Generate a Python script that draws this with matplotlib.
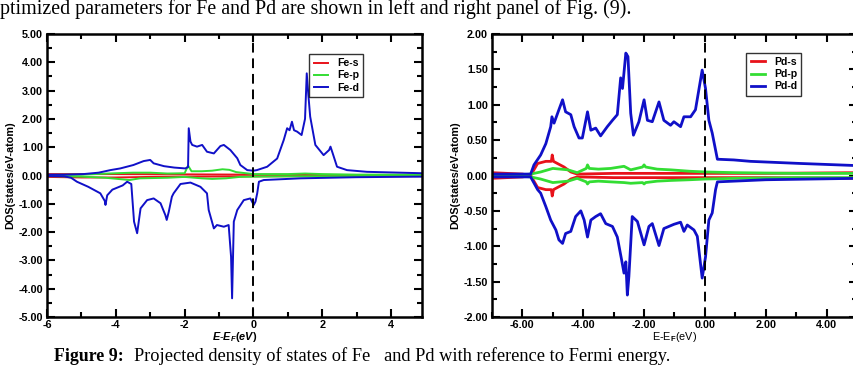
import matplotlib
matplotlib.use("Agg")
import matplotlib.pyplot as plt
from matplotlib.ticker import MultipleLocator, FormatStrFormatter

plt.rcParams['font.family'] = ['Liberation Sans', 'DejaVu Sans']
plt.rcParams['font.weight'] = 'bold'
plt.rcParams['mathtext.fontset'] = 'custom'
plt.rcParams['mathtext.rm'] = 'Liberation Sans:bold'
plt.rcParams['mathtext.it'] = 'Liberation Sans:italic:bold'
plt.rcParams['mathtext.bf'] = 'Liberation Sans:bold'

RED = '#e8121a'
GREEN = '#33dd33'
BLUE = '#1010c8'
FS = 7.8

# ---- Fe (left panel) ----
fe_d_up_e = [-6.0, -5.5, -4.94, -4.5, -4.16, -3.87, -3.49, -3.19, -3.0, -2.9, -2.6, -2.3, -1.98,
             -1.9, -1.88, -1.83, -1.78, -1.64, -1.49, -1.35, -1.15, -0.96, -0.86, -0.67, -0.47,
             -0.38, -0.18, 0.0, 0.1, 0.4, 0.69, 0.88, 0.98, 1.05, 1.12, 1.18, 1.27, 1.4, 1.5, 1.55,
             1.6, 1.65, 1.8, 2.04, 2.2, 2.24, 2.3, 2.43, 2.72, 3.3, 4.27, 4.9]
fe_d_up = [0.03, 0.03, 0.05, 0.1, 0.19, 0.25, 0.37, 0.51, 0.55, 0.43, 0.33, 0.28, 0.25,
           0.3, 1.67, 1.2, 1.08, 1.02, 1.08, 0.84, 0.78, 1.04, 1.08, 0.9, 0.61,
           0.37, 0.19, 0.17, 0.19, 0.31, 0.6, 1.25, 1.67, 1.6, 1.9, 1.6, 1.55, 1.43, 2.0, 3.61,
           2.8, 2.08, 1.08, 0.72, 0.9, 1.02, 0.8, 0.31, 0.19, 0.13, 0.1, 0.08]

fe_d_dn_e = [-6.0, -5.5, -5.3, -5.13, -4.8, -4.45, -4.32, -4.3, -4.25, -4.1, -3.8, -3.67, -3.55,
             -3.47, -3.38, -3.28, -3.09, -2.9, -2.7, -2.56, -2.52, -2.46, -2.37, -2.32, -2.12,
             -1.83, -1.54, -1.35, -1.3, -1.15, -1.06, -0.86, -0.72, -0.65, -0.62, -0.57, -0.47,
             -0.28, -0.09, 0.01, 0.06, 0.11, 0.16, 0.3, 1.37, 3.0, 4.9]
fe_d_dn = [-0.02, -0.03, -0.08, -0.22, -0.4, -0.63, -0.9, -1.04, -0.7, -0.5, -0.35, -0.22, -0.3,
           -1.63, -2.04, -1.16, -0.87, -0.81, -0.98, -1.4, -1.57, -1.28, -0.75, -0.63, -0.3,
           -0.25, -0.4, -0.63, -1.22, -1.87, -1.75, -1.81, -1.75, -2.87, -4.34, -1.63, -1.22,
           -0.87, -0.81, -1.04, -0.92, -0.63, -0.22, -0.16, -0.1, -0.06, -0.04]

fe_p_up_e = [-6.0, -5.0, -4.0, -3.5, -3.0, -2.5, -2.0, -1.9, -1.8, -1.5, -1.2, -0.9, -0.7, -0.5,
             0.0, 1.0, 1.5, 2.0, 3.0, 4.9]
fe_p_up = [0.02, 0.03, 0.08, 0.1, 0.1, 0.07, 0.08, 0.35, 0.15, 0.15, 0.17, 0.22, 0.2, 0.12,
           0.05, 0.05, 0.07, 0.05, 0.03, 0.03]
fe_p_dn_e = [-6.0, -5.0, -4.3, -3.6, -3.3, -2.5, -2.0, -1.5, -1.2, -0.8, -0.4, 0.0, 1.0, 4.9]
fe_p_dn = [-0.02, -0.04, -0.08, -0.16, -0.1, -0.08, -0.05, -0.1, -0.12, -0.1, -0.05, -0.04,
           -0.03, -0.02]

fe_s_up_e = [-6.0, -4.0, -2.0, 0.0, 2.0, 4.9]
fe_s_up = [0.05, 0.05, 0.04, 0.03, 0.02, 0.02]
fe_s_dn_e = [-6.0, -5.0, -4.0, -3.0, -2.0, 0.0, 2.0, 4.9]
fe_s_dn = [-0.05, -0.07, -0.07, -0.05, -0.04, -0.03, -0.02, -0.02]

# ---- Pd (right panel) ----
pd_d_up_e = [-7.0, -6.5, -6.0, -5.73, -5.62, -5.4, -5.23, -5.07, -5.03, -4.96, -4.8, -4.68,
             -4.58, -4.41, -4.3, -4.14, -4.03, -3.86, -3.75, -3.59, -3.43, -3.21, -3.04, -2.88,
             -2.77, -2.71, -2.6, -2.53, -2.44, -2.35, -2.17, -2.0, -1.89, -1.73, -1.51, -1.35,
             -1.13, -1.02, -0.8, -0.69, -0.47, -0.31, -0.09, 0.02, 0.13, 0.24, 0.41, 0.95, 1.5,
             3.14, 5.0]
pd_d_up = [0.02, 0.02, 0.02, 0.02, 0.15, 0.29, 0.45, 0.69, 0.83, 0.74, 0.93, 1.07,
           0.9, 0.86, 0.69, 0.53, 0.53, 0.9, 0.64, 0.67, 0.56, 0.69, 0.78, 0.86,
           1.38, 1.23, 1.73, 1.68, 0.88, 0.57, 0.76, 1.07, 0.78, 0.76, 1.04, 0.78,
           0.71, 0.76, 0.69, 0.83, 0.83, 0.93, 1.49, 1.23, 0.78, 0.6, 0.23, 0.22, 0.2,
           0.17, 0.14]

pd_d_dn_e = [-7.0, -6.0, -5.73, -5.5, -5.4, -5.23, -5.07, -4.9, -4.8, -4.68, -4.58, -4.41,
             -4.25, -4.08, -3.97, -3.86, -3.75, -3.59, -3.43, -3.26, -3.04, -2.88, -2.74,
             -2.66, -2.6, -2.55, -2.5, -2.39, -2.22, -2.0, -1.84, -1.73, -1.51, -1.35, -1.02,
             -0.8, -0.69, -0.58, -0.36, -0.25, -0.09, 0.02, 0.13, 0.24, 0.35, 0.41, 2.0, 5.0]
pd_d_dn = [-0.02, -0.02, -0.02, -0.2, -0.25, -0.44, -0.63, -0.77, -0.91, -0.96, -0.82, -0.79,
           -0.58, -0.5, -0.63, -0.87, -0.63, -0.58, -0.54, -0.68, -0.72, -0.87, -1.19,
           -1.38, -1.22, -1.69, -1.43, -0.58, -0.65, -0.98, -0.72, -0.68, -0.99, -0.75, -0.69,
           -0.66, -0.79, -0.7, -0.77, -0.86, -1.45, -1.15, -0.63, -0.53, -0.2, -0.09, -0.06,
           -0.04]

pd_s_up_e = [-7.0, -6.0, -5.73, -5.5, -5.23, -5.05, -5.02, -4.98, -4.85, -4.63, -4.41, -4.2,
             -3.0, -2.0, -1.0, 0.0, 2.0, 5.0]
pd_s_up = [0.04, 0.02, 0.0, 0.17, 0.2, 0.2, 0.29, 0.2, 0.17, 0.12, 0.05, 0.02,
           0.03, 0.03, 0.03, 0.03, 0.03, 0.04]
pd_s_dn_e = pd_s_up_e
pd_s_dn = [-0.04, -0.02, 0.0, -0.17, -0.2, -0.2, -0.29, -0.2, -0.17, -0.12, -0.05, -0.02,
           -0.03, -0.03, -0.03, -0.03, -0.03, -0.04]

pd_p_up_e = [-7.0, -6.0, -5.73, -5.4, -5.0, -4.5, -4.2, -3.9, -3.86, -3.8, -3.5, -3.1, -2.66,
             -2.44, -2.05, -2.0, -1.95, -1.57, -1.13, -0.5, 0.0, 1.0, 3.0, 5.0]
pd_p_up = [0.01, 0.01, 0.02, 0.05, 0.1, 0.08, 0.04, 0.1, 0.15, 0.1, 0.09, 0.1, 0.13,
           0.08, 0.12, 0.15, 0.12, 0.09, 0.08, 0.06, 0.05, 0.04, 0.03, 0.03]
pd_p_dn_e = pd_p_up_e
pd_p_dn = [-0.01, -0.01, -0.02, -0.05, -0.1, -0.08, -0.04, -0.09, -0.12, -0.09, -0.08,
           -0.09, -0.1, -0.11, -0.1, -0.12, -0.1, -0.08, -0.07, -0.06, -0.05, -0.04, -0.03,
           -0.03]


def style_axes(ax, xlim, ylim, xmaj, ymaj, xfmt, yfmt):
    ax.set_xlim(*xlim)
    ax.set_ylim(*ylim)
    ax.xaxis.set_major_locator(MultipleLocator(xmaj))
    ax.xaxis.set_minor_locator(MultipleLocator(xmaj / 2))
    ax.yaxis.set_major_locator(MultipleLocator(ymaj))
    ax.yaxis.set_minor_locator(MultipleLocator(ymaj / 2))
    ax.xaxis.set_major_formatter(FormatStrFormatter(xfmt))
    ax.yaxis.set_major_formatter(FormatStrFormatter(yfmt))
    ax.tick_params(which='both', direction='in', top=True, right=True, width=1.5,
                   labelsize=FS, pad=3)
    ax.tick_params(axis='x', pad=2.5)
    ax.tick_params(which='major', length=6)
    ax.tick_params(which='minor', length=3.5)
    for s in ax.spines.values():
        s.set_linewidth(1.8)
    ax.axvline(0, color='black', lw=1.4, ls=(0, (5, 3)), zorder=5)
    ax.set_ylabel('DOS(states/eV-atom)', fontsize=FS, fontweight='bold', labelpad=2)


def add_legend(ax, anchor):
    leg = ax.legend(loc='upper right', bbox_to_anchor=anchor, fontsize=7.6, frameon=True,
                    fancybox=False, edgecolor='black', handlelength=1.4, handletextpad=0.8,
                    borderpad=0.4, labelspacing=0.2, borderaxespad=0)
    leg.get_frame().set_linewidth(1.0)


fig = plt.figure(figsize=(8.54, 3.66), dpi=100)
ax1 = fig.add_axes([47 / 854, 49 / 366, 375 / 854, 283 / 366])
ax2 = fig.add_axes([492 / 854, 49 / 366, 365 / 854, 283 / 366])

ax1.plot(fe_s_up_e, fe_s_up, color=RED, lw=1.4, label='Fe-s')
ax1.plot(fe_s_dn_e, fe_s_dn, color=RED, lw=1.4)
ax1.plot(fe_p_up_e, fe_p_up, color=GREEN, lw=1.4, label='Fe-p')
ax1.plot(fe_p_dn_e, fe_p_dn, color=GREEN, lw=1.4)
ax1.plot(fe_d_up_e, fe_d_up, color=BLUE, lw=1.4, label='Fe-d')
ax1.plot(fe_d_dn_e, fe_d_dn, color=BLUE, lw=1.4)
style_axes(ax1, (-6, 4.9), (-5, 5), 2, 1, '%d', '%.2f')
ax1.set_xlabel('$E$-$E_F$$(eV)$', fontsize=FS, labelpad=0)
add_legend(ax1, (0.843, 0.929))

ax2.plot(pd_s_up_e, pd_s_up, color=RED, lw=2, label='Pd-s')
ax2.plot(pd_s_dn_e, pd_s_dn, color=RED, lw=2)
ax2.plot(pd_p_up_e, pd_p_up, color=GREEN, lw=2, label='Pd-p')
ax2.plot(pd_p_dn_e, pd_p_dn, color=GREEN, lw=2)
ax2.plot(pd_d_up_e, pd_d_up, color=BLUE, lw=2, label='Pd-d')
ax2.plot(pd_d_dn_e, pd_d_dn, color=BLUE, lw=2)
style_axes(ax2, (-7, 5), (-2, 2), 2, 0.5, '%.2f', '%.2f')
ax2.set_xlabel('E-E$_\\mathrm{F}$(eV)', fontsize=FS, labelpad=0)
add_legend(ax2, (0.847, 0.933))

serif = ['Liberation Serif', 'DejaVu Serif']
fig.text(0.0, 1 - 14 / 366, 'ptimized parameters for Fe and Pd are shown in left and right panel of Fig. (9).',
         family=serif, fontweight='normal', fontsize=14.4, va='baseline', ha='left')
fig.text(54 / 854, 1 - 361 / 366, 'Figure 9:', family=serif, fontweight='bold',
         fontsize=12.9, va='baseline', ha='left')
fig.text(134 / 854, 1 - 361 / 366, 'Projected density of states of Fe   and Pd with reference to Fermi energy.',
         family=serif, fontweight='normal', fontsize=13.2, va='baseline', ha='left')

fig.savefig('out.png', dpi=100)
